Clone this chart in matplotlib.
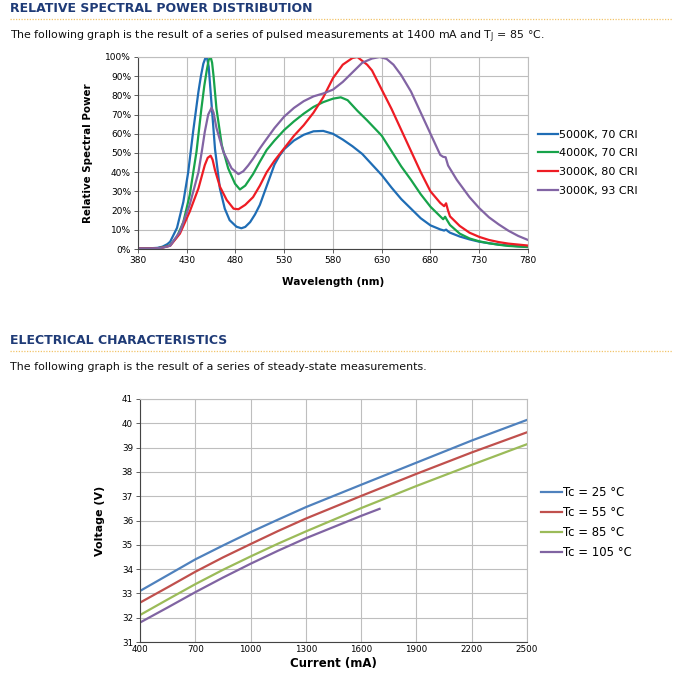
import numpy as np
import matplotlib
matplotlib.use('Agg')
import matplotlib.pyplot as plt
from matplotlib.lines import Line2D

# ---- spectral power distribution data ----
wl_5000k = [380, 390, 400, 405, 410, 413, 420, 426.5, 431.5, 436.5, 442, 444.5, 447, 449.5,
            451, 452.5, 455.5, 459, 464, 469, 474, 481, 486, 490, 495, 500, 505, 510, 515,
            520, 525, 530, 540, 550, 560, 570, 580, 590, 600, 610, 620, 630, 640,
            650, 660, 670, 680, 690, 694, 696, 698, 700, 710, 720, 730, 740, 750,
            760, 770, 780]
spd_5000k = [0.3, 0.3, 0.6, 1.2, 2.5, 3.8, 11, 24.5, 40, 61, 82, 90, 96.5, 100,
             99, 95, 75, 52, 31.5, 21, 15, 11.6, 10.8, 11.5, 14, 18, 23, 30, 37,
             44, 48.5, 52, 56.5, 59.5, 61.3, 61.5, 60, 57, 53.5, 49.5, 44, 38.5, 32,
             26, 21, 16, 12.3, 10.2, 9.6, 10.1, 9.2, 8.5, 6.5, 5, 3.8, 3, 2.3,
             1.8, 1.4, 1.1]

wl_4000k = [380, 390, 400, 405, 410, 413, 420, 426.5, 433, 440, 445, 448, 450.5, 452.5, 454.5,
            456, 457.5, 460.5, 466, 472.5, 479.5, 484.5, 490, 498, 505, 512, 520, 530,
            540, 550, 560, 570, 580, 588, 595, 605, 615, 630, 640, 650, 660, 670,
            680, 690, 693, 695, 697, 700, 710, 720, 730, 740, 750, 760, 770, 780]
spd_4000k = [0.3, 0.3, 0.4, 0.8, 1.5, 2, 6.4, 14, 28, 50.7, 73, 85, 93, 98.5, 100,
             97, 90, 73, 54, 42, 34, 31, 33, 39, 45.5, 51.6, 56.5, 62,
             66.5, 70.5, 74, 76.5, 78.3, 79, 77.5, 72, 67, 59, 51, 43, 36, 28.5,
             22, 17, 15.5, 16.8, 15, 12.5, 8, 5.5, 4, 3, 2.2, 1.6, 1.3, 1]

wl_3000k80 = [380, 390, 400, 405, 410, 413, 423, 433, 442, 448.5, 451.5, 454.5, 456.5, 459, 464,
              471, 478, 483, 490, 498, 505, 512, 520, 530, 540, 550, 560, 570, 580,
              590, 600, 605, 615, 620, 625, 630, 640, 650, 660, 670, 680, 690, 694,
              696, 698, 700, 710, 720, 730, 740, 750, 760, 770, 780]
spd_3000k80 = [0.3, 0.3, 0.4, 0.7, 1.3, 1.7, 8, 19.4, 31.6, 43.7, 47.5, 48.6, 46.5, 41, 32.5,
               25.5, 21, 20.7, 23, 27, 33, 40, 46, 52.5, 59, 64.5, 71, 79, 89,
               96, 99.5, 100, 96, 93, 88, 83, 73, 62, 51, 40, 30, 24, 22.3,
               23.8, 20, 17, 12, 8.5, 6.3, 4.7, 3.6, 2.8, 2.3, 1.8]

wl_3000k93 = [380, 390, 400, 405, 410, 413, 423, 433, 442, 445.5, 448.5, 452, 455.5, 457.5,
              460.5, 467.5, 476, 483, 488, 493, 498, 505, 510, 515, 520, 530, 540, 550,
              560, 570, 580, 590, 600, 610, 620, 628, 635, 642, 650, 660, 670, 680,
              690, 693, 695.5, 698, 707, 720, 730, 740, 750, 760, 770, 780]
spd_3000k93 = [0.3, 0.3, 0.4, 0.7, 1.3, 1.7, 9, 23, 40, 51, 61, 70, 73.6, 71,
               63, 50.7, 42, 39, 40.5, 43.5, 47, 52.4, 56, 59.5, 63, 69, 73.5, 77,
               79.5, 81, 83, 87, 92, 97, 99.2, 100, 99, 96, 90.5, 82, 71, 60,
               49, 48, 47.8, 43.5, 36, 27, 21.3, 16.5, 12.8, 9.5, 6.8, 4.7]

spd_labels = ['5000K, 70 CRI', '4000K, 70 CRI', '3000K, 80 CRI', '3000K, 93 CRI']
spd_colors = ['#1F6DB5', '#17A34A', '#EE1C24', '#8264A4']

# ---- forward voltage vs current ----
current_ma = [400, 550, 700, 850, 1000, 1150, 1300, 1600, 1900, 2200, 2500]
vf_25 = [33.10, 33.75, 34.40, 34.97, 35.52, 36.04, 36.55, 37.47, 38.38, 39.29, 40.14]
vf_55 = [32.62, 33.25, 33.89, 34.48, 35.03, 35.57, 36.08, 37.01, 37.92, 38.80, 39.63]
vf_85 = [32.11, 32.75, 33.38, 33.97, 34.52, 35.05, 35.55, 36.51, 37.42, 38.29, 39.14]
current_105 = [400, 550, 700, 850, 1000, 1150, 1300, 1600, 1700]
vf_105 = [31.80, 32.42, 33.05, 33.65, 34.22, 34.76, 35.27, 36.19, 36.48]
vf_labels = ['Tc = 25 °C', 'Tc = 55 °C', 'Tc = 85 °C', 'Tc = 105 °C']
vf_colors = ['#4F81BD', '#C0504D', '#9BBB59', '#8064A2']

W, H = 680, 696
fig = plt.figure(figsize=(W / 100, H / 100), dpi=100)
plt.rcParams['font.family'] = 'DejaVu Sans'

navy = '#1F3B77'
gold = '#F2C46A'
grid_c = '#BEBEBE'


def header(y_title, y_line, y_sub, title, sub):
    fig.text(10 / W, 1 - y_title / H, title, fontsize=9.0, fontweight='bold',
             color=navy, va='center', ha='left')
    fig.add_artist(Line2D([10 / W, 672 / W], [1 - y_line / H, 1 - y_line / H],
                          color=gold, lw=0.9, ls=(0, (1, 1.2))))
    fig.text(10 / W, 1 - y_sub / H, sub, fontsize=7.9, color='#111111',
             va='center', ha='left')


header(8, 19, 37, 'RELATIVE SPECTRAL POWER DISTRIBUTION',
       r'The following graph is the result of a series of pulsed measurements '
       r'at 1400 mA and T$_\mathregular{J}$ = 85 °C.')
header(340, 351, 367, 'ELECTRICAL CHARACTERISTICS',
       'The following graph is the result of a series of steady-state measurements.')


def style_axes(ax):
    ax.grid(True, color=grid_c, lw=0.8)
    ax.set_axisbelow(True)
    for s in ['top', 'right']:
        ax.spines[s].set_color(grid_c)
    for s in ['left', 'bottom']:
        ax.spines[s].set_color('#444444')
        ax.spines[s].set_linewidth(0.8)
    ax.tick_params(length=3, width=0.6, color='#444444', pad=2)


# ---- top chart ----
ax1 = fig.add_axes([138 / W, 1 - 249 / H, 390 / W, 192 / H])
series = [(wl_5000k, spd_5000k), (wl_4000k, spd_4000k),
          (wl_3000k80, spd_3000k80), (wl_3000k93, spd_3000k93)]
for (x, y), lab, c in zip(series, spd_labels, spd_colors):
    ax1.plot(x, y, color=c, lw=1.6, label=lab, solid_joinstyle='round')
ax1.set_xlim(380, 780)
ax1.set_ylim(0, 100)
ax1.set_xticks(range(380, 781, 50))
ax1.set_yticks(range(0, 101, 10))
ax1.set_yticklabels([f'{v}%' for v in range(0, 101, 10)])
ax1.tick_params(labelsize=6.5)
style_axes(ax1)
ax1.set_xlabel('Wavelength (nm)', fontsize=7.6, fontweight='bold', labelpad=9)
ax1.set_ylabel('Relative Spectral Power', fontsize=7.4, fontweight='bold', labelpad=9)
ax1.legend(loc='center left', bbox_to_anchor=(1.026, 0.45), frameon=False,
           fontsize=8.0, handlelength=1.8, handletextpad=0.1, borderpad=0,
           borderaxespad=0, labelspacing=0.78)

# ---- bottom chart ----
ax2 = fig.add_axes([140 / W, 1 - 642 / H, 387 / W, 243 / H])
for x, y, lab, c in zip([current_ma, current_ma, current_ma, current_105],
                        [vf_25, vf_55, vf_85, vf_105], vf_labels, vf_colors):
    ax2.plot(x, y, color=c, lw=1.6, label=lab)
ax2.set_xlim(400, 2500)
ax2.set_ylim(31, 41)
ax2.set_xticks(range(400, 2501, 300))
ax2.set_yticks(range(31, 42))
ax2.tick_params(labelsize=6.3)
style_axes(ax2)
ax2.tick_params(axis='x', length=0)
ax2.set_xlabel('Current (mA)', fontsize=8.5, fontweight='bold', labelpad=2)
ax2.set_ylabel('Voltage (V)', fontsize=8, fontweight='bold', labelpad=12)
ax2.legend(loc='center left', bbox_to_anchor=(1.036, 0.491), frameon=False,
           fontsize=8.4, handlelength=1.8, handletextpad=0.1, borderpad=0,
           borderaxespad=0, labelspacing=0.6)

fig.savefig('out.png', dpi=100)
